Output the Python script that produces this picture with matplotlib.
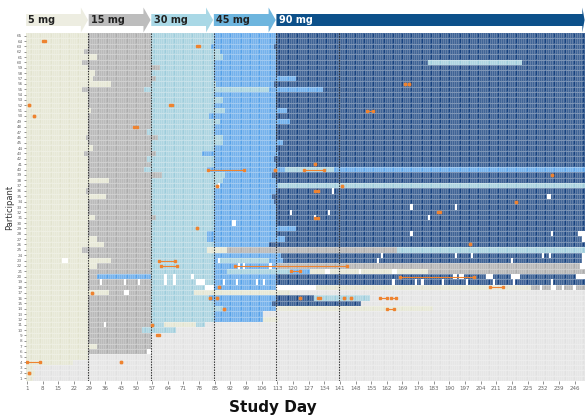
import matplotlib
matplotlib.use("Agg")
import matplotlib.pyplot as plt
import matplotlib.transforms as mtransforms
from matplotlib.colors import ListedColormap, BoundaryNorm
from matplotlib.patches import Polygon
import numpy as np

# ---- data ----
n_days = 250
n_participants = 65

# dose codes: 0 = off treatment, 1 = missed dose
dose_codes = [0, 1, 5, 15, 30, 45, 90]
dose_colors = ["#E1E1E1", "#FFFFFF", "#E2E3CF", "#ACACAC", "#9DCCDB", "#57A2E8", "#17427F"]

stage_labels = ["5 mg", "15 mg", "30 mg", "45 mg", "90 mg"]
stage_start = [1, 29, 57, 85, 113]
stage_end = [28, 56, 84, 112, 250]
stage_colors = ["#EDEDE1", "#BDBDBD", "#A9D8E6", "#6DB5DE", "#0C508A"]
stage_text = ["#222222", "#222222", "#222222", "#222222", "#FFFFFF"]

dashed_days = [29, 57, 85, 113, 141]
xtick_days = list(range(1, 247, 7))

# (dose, first day, last day) for every participant
runs = {
    65: [(5, 1, 28), (15, 29, 56), (30, 57, 84), (45, 85, 112), (90, 113, 250)],
    64: [(5, 1, 28), (15, 29, 56), (30, 57, 84), (45, 85, 112), (90, 113, 250)],
    63: [(5, 1, 28), (15, 29, 56), (30, 57, 83), (45, 84, 111), (90, 112, 250)],
    62: [(5, 1, 26), (15, 27, 56), (30, 57, 87), (45, 88, 112), (90, 113, 250)],
    61: [(5, 1, 32), (15, 33, 56), (30, 57, 88), (45, 89, 112), (90, 113, 250)],
    60: [(5, 1, 25), (15, 26, 56), (30, 57, 84), (45, 85, 112), (90, 113, 180), (30, 181, 222), (90, 223, 250)],
    59: [(5, 1, 28), (15, 29, 60), (30, 61, 84), (45, 85, 112), (90, 113, 250)],
    58: [(5, 1, 31), (15, 32, 56), (30, 57, 84), (45, 85, 112), (90, 113, 250)],
    57: [(5, 1, 30), (15, 31, 58), (30, 59, 84), (45, 85, 121), (90, 122, 250)],
    56: [(5, 1, 38), (15, 39, 56), (30, 57, 85), (45, 86, 111), (90, 112, 250)],
    55: [(5, 1, 25), (15, 26, 53), (30, 54, 109), (45, 110, 133), (90, 134, 250)],
    54: [(5, 1, 28), (15, 29, 56), (30, 57, 84), (45, 85, 112), (90, 113, 250)],
    53: [(5, 1, 28), (15, 29, 56), (30, 57, 88), (45, 89, 112), (90, 113, 250)],
    52: [(5, 1, 28), (15, 29, 56), (30, 57, 84), (45, 85, 112), (90, 113, 250)],
    51: [(5, 1, 29), (15, 30, 56), (30, 57, 89), (45, 90, 117), (90, 118, 250)],
    50: [(5, 1, 28), (15, 29, 56), (30, 57, 82), (45, 83, 112), (90, 113, 250)],
    49: [(5, 1, 28), (15, 29, 56), (30, 57, 87), (45, 88, 118), (90, 119, 250)],
    48: [(5, 1, 28), (15, 29, 56), (30, 57, 84), (45, 85, 112), (90, 113, 250)],
    47: [(5, 1, 28), (15, 29, 54), (30, 55, 84), (45, 85, 112), (90, 113, 250)],
    46: [(5, 1, 27), (15, 28, 59), (30, 60, 88), (45, 89, 112), (90, 113, 250)],
    45: [(5, 1, 28), (15, 29, 56), (30, 57, 88), (45, 89, 115), (90, 116, 250)],
    44: [(5, 1, 30), (15, 31, 56), (30, 57, 84), (45, 85, 112), (90, 113, 250)],
    43: [(5, 1, 26), (15, 27, 58), (30, 59, 79), (45, 80, 113), (90, 114, 250)],
    42: [(5, 1, 28), (15, 29, 54), (30, 55, 84), (45, 85, 111), (90, 112, 250)],
    41: [(5, 1, 28), (15, 29, 56), (30, 57, 84), (45, 85, 112), (90, 113, 250)],
    40: [(5, 1, 28), (15, 29, 53), (30, 54, 81), (45, 82, 116), (30, 117, 138), (45, 139, 250)],
    39: [(5, 1, 28), (15, 29, 61), (30, 62, 89), (45, 90, 110), (90, 111, 250)],
    38: [(5, 1, 37), (15, 38, 56), (30, 57, 88), (45, 89, 112), (90, 113, 250)],
    37: [(5, 1, 28), (15, 29, 56), (30, 57, 87), (45, 88, 113), (30, 114, 250)],
    36: [(5, 1, 27), (15, 28, 56), (30, 57, 84), (45, 85, 112), (90, 113, 250)],
    35: [(5, 1, 36), (15, 37, 56), (30, 57, 84), (45, 85, 110), (90, 111, 250)],
    34: [(5, 1, 28), (15, 29, 56), (30, 57, 84), (45, 85, 111), (90, 112, 250)],
    33: [(5, 1, 28), (15, 29, 56), (30, 57, 84), (45, 85, 112), (90, 113, 250)],
    32: [(5, 1, 28), (15, 29, 56), (30, 57, 84), (45, 85, 112), (90, 113, 250)],
    31: [(5, 1, 31), (15, 32, 58), (30, 59, 84), (45, 85, 112), (90, 113, 250)],
    30: [(5, 1, 28), (15, 29, 56), (30, 57, 84), (45, 85, 112), (90, 113, 250)],
    29: [(5, 1, 28), (15, 29, 56), (30, 57, 84), (45, 85, 121), (90, 122, 250)],
    28: [(5, 1, 28), (15, 29, 56), (30, 57, 81), (45, 82, 112), (90, 113, 250)],
    27: [(5, 1, 32), (15, 33, 56), (30, 57, 81), (45, 82, 116), (90, 117, 250)],
    26: [(5, 1, 35), (15, 36, 56), (30, 57, 84), (45, 85, 109), (90, 110, 250)],
    25: [(5, 1, 25), (15, 26, 56), (30, 57, 81), (5, 82, 90), (15, 91, 166), (30, 167, 250)],
    24: [(5, 1, 28), (15, 29, 56), (30, 57, 84), (45, 85, 114), (90, 115, 250)],
    23: [(5, 1, 38), (15, 39, 56), (30, 57, 84), (45, 85, 86), (30, 87, 109), (45, 110, 115), (90, 116, 250)],
    22: [(5, 1, 32), (15, 33, 56), (30, 57, 84), (45, 85, 112), (15, 113, 250)],
    21: [(5, 1, 28), (15, 29, 56), (30, 57, 84), (45, 85, 90), (30, 91, 118), (45, 119, 127), (5, 128, 180), (15, 181, 250)],
    20: [(5, 1, 28), (15, 29, 32), (45, 33, 56), (30, 57, 84), (45, 85, 112), (90, 113, 250)],
    19: [(5, 1, 28), (15, 29, 56), (30, 57, 84), (45, 85, 112), (90, 113, 250)],
    18: [(5, 1, 28), (15, 29, 56), (30, 57, 84), (45, 85, 112), (5, 131, 226), (15, 227, 250)],
    17: [(5, 1, 37), (15, 38, 56), (30, 57, 75), (5, 76, 118)],
    16: [(5, 1, 28), (15, 29, 56), (30, 57, 82), (45, 83, 112), (90, 113, 129), (30, 130, 154)],
    15: [(5, 1, 28), (15, 29, 56), (30, 57, 84), (45, 85, 110), (90, 111, 150)],
    14: [(5, 1, 28), (15, 29, 56), (30, 57, 88), (45, 89, 112), (5, 113, 182)],
    13: [(5, 1, 28), (15, 29, 56), (30, 57, 84), (45, 85, 106)],
    12: [(5, 1, 28), (15, 29, 56), (30, 57, 84), (45, 85, 106), (5, 107, 113)],
    11: [(5, 1, 28), (15, 29, 56), (30, 57, 62), (5, 63, 76), (30, 77, 80)],
    10: [(5, 1, 28), (15, 29, 52), (30, 53, 67)],
    9: [(5, 1, 28), (15, 29, 56)],
    8: [(5, 1, 28), (15, 29, 56)],
    7: [(5, 1, 32), (15, 33, 56)],
    6: [(5, 1, 28), (15, 29, 54)],
    5: [(5, 1, 28)],
    4: [(5, 1, 21)],
    3: [(5, 1, 3)],
    2: [(5, 1, 4)],
    1: [(5, 1, 3)],
}

# missed doses (white cells): participant, first day, last day
missed = [
    (37, 87, 87), (36, 138, 138), (35, 234, 235), (33, 173, 173), (33, 193, 193),
    (32, 119, 119), (32, 136, 136), (31, 130, 130), (31, 181, 181), (30, 93, 94),
    (28, 173, 173), (28, 236, 236), (28, 248, 250), (27, 250, 250),
    (24, 160, 160), (24, 193, 193), (24, 200, 200), (24, 232, 232), (24, 235, 235), (24, 250, 250),
    (23, 17, 19), (23, 87, 87), (23, 158, 158), (23, 218, 218), (23, 250, 250),
    (22, 96, 96), (22, 98, 98), (22, 110, 110), (22, 249, 250),
    (21, 135, 136), (21, 150, 150), (21, 165, 166),
    (20, 63, 63), (20, 67, 67), (20, 75, 75), (20, 192, 193), (20, 195, 196),
    (20, 207, 209), (20, 218, 221), (20, 247, 250),
    (19, 34, 34), (19, 45, 45), (19, 51, 51), (19, 63, 63), (19, 67, 67), (19, 77, 80),
    (19, 89, 89), (19, 95, 95), (19, 104, 104), (19, 107, 107), (19, 165, 165),
    (19, 175, 175), (19, 178, 178), (19, 187, 187), (19, 198, 198), (19, 210, 210),
    (19, 219, 219), (19, 236, 236),
    (18, 81, 84), (18, 113, 130), (18, 231, 231), (18, 236, 237), (18, 241, 241), (18, 246, 246),
    (17, 45, 46), (11, 36, 36), (6, 55, 56),
]

# orange events: participant, first day, last day
events = [
    (64, 8, 9), (63, 77, 78), (56, 170, 170), (56, 172, 172), (52, 2, 2), (52, 65, 66),
    (51, 153, 156), (50, 4, 4), (48, 49, 50), (41, 130, 130), (40, 82, 98), (40, 112, 112),
    (40, 125, 134), (39, 236, 236), (37, 86, 86), (37, 142, 142), (36, 130, 131),
    (34, 220, 220), (32, 185, 186), (31, 130, 131), (29, 77, 77), (26, 199, 199),
    (23, 60, 67), (22, 61, 68), (22, 94, 144), (21, 119, 123), (20, 168, 201),
    (18, 87, 87), (18, 208, 214), (17, 30, 30), (16, 83, 83), (16, 86, 86), (16, 123, 123),
    (16, 131, 132), (16, 143, 143), (16, 146, 146), (16, 159, 162), (16, 164, 166),
    (14, 89, 89), (14, 162, 165), (11, 57, 57), (9, 59, 60), (4, 1, 7), (4, 43, 43), (2, 2, 2),
]

# ---- build the day-by-participant matrix ----
grid = np.zeros((n_participants, n_days), dtype=int)
for p, segs in runs.items():
    for dose, d0, d1 in segs:
        grid[p - 1, d0 - 1:d1] = dose
for p, d0, d1 in missed:
    grid[p - 1, d0 - 1:d1] = 1

code_index = {c: i for i, c in enumerate(dose_codes)}
idx = np.vectorize(code_index.get)(grid)

cmap = ListedColormap(dose_colors)
norm = BoundaryNorm(np.arange(len(dose_codes) + 1) - 0.5, cmap.N)

fig = plt.figure(figsize=(5.86, 4.19), dpi=100)
ax = fig.add_axes([0.0442, 0.0907, 0.9534, 0.8305])

x_edges = np.arange(n_days + 1) + 0.5
y_edges = np.arange(n_participants + 1) + 0.5
ax.pcolormesh(x_edges, y_edges, idx, cmap=cmap, norm=norm,
              edgecolors=(1, 1, 1, 0.18), linewidth=0.25)

for d in dashed_days:
    ax.axvline(d - 0.5, color="#2b2b2b", lw=0.8, ls=(0, (1.2, 1.2)), zorder=3)

for p, d0, d1 in events:
    ax.plot([d0, d1], [p, p], color="#EE8330", lw=0.8, marker="s", ms=1.8,
            solid_capstyle="butt", zorder=4)

ax.set_xlim(0.5, n_days + 0.5)
ax.set_ylim(0.5, n_participants + 0.5)
ax.set_xticks(xtick_days)
ax.set_xticklabels([str(d) for d in xtick_days])
ax.set_yticks(range(1, n_participants + 1))
ax.set_yticklabels([str(p) for p in range(1, n_participants + 1)])
ax.tick_params(axis="x", labelsize=4, colors="#666666", length=2, width=0.5, pad=1.5)
ax.tick_params(axis="y", labelsize=3, colors="#666666", length=1.5, width=0.5, pad=1)
for s in ax.spines.values():
    s.set_visible(False)

ax.set_ylabel("Participant", fontsize=6, color="#333333", labelpad=2)
fig.text(273 / 586, 1 - 407 / 419, "Study Day", fontsize=11, fontweight="bold",
         ha="center", va="center", color="#111111")

# ---- dose stage arrows above the grid ----
trans = mtransforms.blended_transform_factory(ax.transData, fig.transFigure)
body_top, body_bot = 1 - 14 / 419, 1 - 26 / 419
head_top, head_bot = 1 - 7.5 / 419, 1 - 32.5 / 419
mid = (body_top + body_bot) / 2
for i in range(len(stage_labels)):
    x0 = stage_start[i] - 0.5 + 0.1
    tip = stage_end[i] + 0.3
    hl = 3.2 if i < 4 else 1.0
    if i == 4:
        tip = stage_end[i] + 0.5
    pts = [(x0, body_bot), (tip - hl, body_bot), (tip - hl, head_bot), (tip, mid),
           (tip - hl, head_top), (tip - hl, body_top), (x0, body_top)]
    ax.add_patch(Polygon(pts, closed=True, transform=trans, facecolor=stage_colors[i],
                         edgecolor="none", clip_on=False))
    ax.text(stage_start[i] + 0.6, mid, stage_labels[i], transform=trans, fontsize=7,
            fontweight="bold", color=stage_text[i], ha="left", va="center")

fig.savefig("out.png", dpi=100)
